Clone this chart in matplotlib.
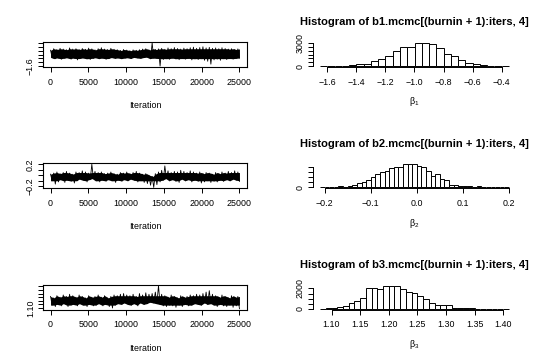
import numpy as np
import matplotlib.pyplot as plt

plt.rcParams['font.family'] = ['Liberation Sans', 'DejaVu Sans']
plt.rcParams['mathtext.fontset'] = 'custom'
plt.rcParams['mathtext.rm'] = 'Liberation Sans'
plt.rcParams['mathtext.it'] = 'Liberation Sans:italic'

# trace plots: upper and lower edge of the sample band, read per ~417 iterations
n_iter = 25000
b1_hi = [-0.78, -0.70, -0.74, -0.68, -0.72, -0.75, -0.66, -0.72, -0.70, -0.74,
         -0.69, -0.73, -0.67, -0.71, -0.76, -0.70, -0.65, -0.72, -0.74, -0.68,
         -0.73, -0.75, -0.79, -0.74, -0.77, -0.80, -0.76, -0.78, -0.75, -0.72,
         -0.70, -0.76, -0.40, -0.74, -0.71, -0.68, -0.73, -0.66, -0.70, -0.64,
         -0.69, -0.72, -0.67, -0.70, -0.65, -0.62, -0.68, -0.64, -0.60, -0.66,
         -0.63, -0.68, -0.66, -0.70, -0.65, -0.69, -0.72, -0.70, -0.74, -0.71]
b1_lo = [-1.15, -1.22, -1.18, -1.25, -1.20, -1.17, -1.24, -1.19, -1.28, -1.21,
         -1.18, -1.23, -1.26, -1.20, -1.17, -1.22, -1.19, -1.25, -1.21, -1.16,
         -1.20, -1.18, -1.22, -1.19, -1.17, -1.21, -1.15, -1.18, -1.20, -1.16,
         -1.14, -1.22, -1.19, -1.20, -1.60, -1.26, -1.22, -1.25, -1.19, -1.23,
         -1.27, -1.21, -1.24, -1.20, -1.28, -1.23, -1.26, -1.22, -1.30, -1.35,
         -1.50, -1.28, -1.24, -1.30, -1.22, -1.26, -1.21, -1.24, -1.20, -1.18]

b2_hi = [0.02, 0.04, 0.06, 0.03, 0.05, 0.07, 0.04, 0.02, 0.06, 0.05,
         0.08, 0.06, 0.04, 0.20, 0.07, 0.05, 0.06, 0.03, 0.04, 0.06,
         0.03, 0.02, 0.05, 0.04, 0.06, 0.03, 0.05, 0.07, 0.04, 0.02,
         0.03, 0.00, -0.02, 0.03, 0.06, 0.09, 0.17, 0.08, 0.05, 0.07,
         0.06, 0.09, 0.07, 0.05, 0.08, 0.06, 0.04, 0.06, 0.03, 0.05,
         0.04, 0.02, 0.05, 0.03, 0.06, 0.04, 0.07, 0.05, 0.08, 0.06]
b2_lo = [-0.10, -0.16, -0.12, -0.08, -0.13, -0.09, -0.11, -0.14, -0.10, -0.07,
         -0.09, -0.12, -0.08, -0.06, -0.10, -0.12, -0.09, -0.11, -0.08, -0.10,
         -0.13, -0.09, -0.11, -0.08, -0.10, -0.07, -0.09, -0.12, -0.10, -0.13,
         -0.15, -0.18, -0.22, -0.17, -0.12, -0.09, -0.06, -0.10, -0.08, -0.11,
         -0.13, -0.07, -0.10, -0.08, -0.12, -0.09, -0.11, -0.14, -0.12, -0.10,
         -0.13, -0.11, -0.12, -0.09, -0.11, -0.08, -0.10, -0.07, -0.09, -0.11]

b3_hi = [1.26, 1.24, 1.27, 1.25, 1.28, 1.26, 1.29, 1.27, 1.25, 1.28,
         1.26, 1.24, 1.27, 1.25, 1.26, 1.28, 1.25, 1.27, 1.24, 1.26,
         1.28, 1.27, 1.29, 1.30, 1.28, 1.27, 1.29, 1.26, 1.30, 1.28,
         1.31, 1.29, 1.30, 1.32, 1.41, 1.29, 1.27, 1.25, 1.28, 1.26,
         1.24, 1.27, 1.25, 1.26, 1.28, 1.27, 1.29, 1.28, 1.30, 1.32,
         1.34, 1.29, 1.27, 1.25, 1.28, 1.26, 1.24, 1.27, 1.25, 1.26]
b3_lo = [1.14, 1.12, 1.15, 1.13, 1.16, 1.12, 1.14, 1.15, 1.13, 1.16,
         1.14, 1.12, 1.15, 1.13, 1.14, 1.16, 1.13, 1.15, 1.12, 1.10,
         1.14, 1.16, 1.15, 1.17, 1.15, 1.14, 1.16, 1.13, 1.17, 1.15,
         1.16, 1.18, 1.17, 1.16, 1.15, 1.13, 1.12, 1.14, 1.13, 1.11,
         1.14, 1.12, 1.15, 1.13, 1.14, 1.16, 1.15, 1.14, 1.17, 1.15,
         1.16, 1.14, 1.12, 1.15, 1.13, 1.12, 1.14, 1.11, 1.13, 1.09]

# histograms: first break, bin width, counts
b1_start, b1_width = -1.65, 0.05
b1_counts = [3, 5, 15, 40, 140, 230, 320, 690, 920, 1290, 1980, 2450, 2480,
             3050, 3000, 2850, 2380, 1540, 1270, 790, 420, 230, 90, 40, 15, 4]
b2_start, b2_width = -0.21, 0.01
b2_counts = [3, 5, 20, 70, 140, 70, 140, 280, 410, 480, 720, 1000, 1340, 1480,
             1590, 1830, 2000, 2000, 2240, 2240, 2240, 2070, 2000, 1550, 1070,
             1340, 860, 720, 280, 210, 170, 140, 100, 70, 140, 35, 35, 50, 35,
             30, 10]
b3_start, b3_width = 1.08, 0.01
b3_counts = [5, 30, 100, 180, 280, 560, 810, 1020, 2040, 2040, 1960, 2250, 2280,
             2210, 1900, 1650, 1540, 1300, 950, 600, 350, 350, 320, 100, 70, 40,
             30, 15, 10, 10, 8, 5, 3]

iter_ticks = [0, 5000, 10000, 15000, 20000, 25000]
b1_trace_ticks = [-1.6, -1.4, -1.2, -1.0, -0.8, -0.6, -0.4]
b1_trace_labels = ['\u22121.6', '', '', '', '', '', '']
b2_trace_ticks = [-0.2, -0.1, 0.0, 0.1, 0.2]
b2_trace_labels = ['\u22120.2', '', '', '', '0.2']
b3_trace_ticks = [1.10, 1.15, 1.20, 1.25, 1.30, 1.35, 1.40]
b3_trace_labels = ['1.10', '', '', '', '', '', '']

b1_hist_xticks = [-1.6, -1.4, -1.2, -1.0, -0.8, -0.6, -0.4]
b2_hist_xticks = [-0.2, -0.1, 0.0, 0.1, 0.2]
b3_hist_xticks = [1.10, 1.15, 1.20, 1.25, 1.30, 1.35, 1.40]
hist_xfmt = ['%.1f', '%.1f', '%.2f']
b1_hist_yticks = [0, 500, 1000, 1500, 2000, 2500, 3000]
b1_hist_ylabels = ['0', '', '', '', '', '', '3000']
b2_hist_yticks = [0, 500, 1000, 1500, 2000]
b2_hist_ylabels = ['0', '', '', '', '']
b3_hist_yticks = [0, 500, 1000, 1500, 2000]
b3_hist_ylabels = ['0', '', '', '', '2000']

titles = ['Histogram of b1.mcmc[(burnin + 1):iters, 4]',
          'Histogram of b2.mcmc[(burnin + 1):iters, 4]',
          'Histogram of b3.mcmc[(burnin + 1):iters, 4]']
xlabels = [r'$\mathrm{\beta}_1$', r'$\mathrm{\beta}_2$', r'$\mathrm{\beta}_3$']

W, H = 539, 364
fs = 6.4


def style(ax):
    ax.tick_params(direction='out', length=3.3, width=0.7, labelsize=fs)
    ax.tick_params(axis='x', pad=4.5)
    ax.tick_params(axis='y', pad=2.5, labelrotation=90)
    for lab in ax.get_yticklabels():
        lab.set_va('center')


def trace(ax, hi, lo, yticks, ylabels):
    ys = np.empty(2 * len(hi))
    ys[0::2] = hi
    ys[1::2] = lo
    xs = np.linspace(0, n_iter, len(ys))
    xm = np.linspace(0, n_iter, len(hi))
    # dense core of the band, spikes stay as the zigzag line
    core_hi = np.minimum(hi, np.median(hi))
    core_lo = np.maximum(lo, np.median(lo))
    ax.fill_between(xm, core_lo, core_hi, color='black', lw=0)
    ax.plot(xs, ys, color='black', lw=0.6)
    lo_v, hi_v = min(lo), max(hi)
    r = hi_v - lo_v
    ax.set_ylim(lo_v - 0.04 * r, hi_v + 0.04 * r)
    ax.set_xlim(-0.04 * n_iter, 1.04 * n_iter)
    ax.set_xticks(iter_ticks)
    ax.set_xticklabels([str(t) for t in iter_ticks])
    ax.set_yticks(yticks)
    ax.set_yticklabels(ylabels)
    for s in ax.spines.values():
        s.set_linewidth(0.8)
    style(ax)
    ax.set_xlabel('Iteration', fontsize=fs)
    ax.xaxis.set_label_coords(0.5, -34.0 / 25)


def hist(ax, start, width, counts, xticks, fmt, yticks, ylabels, title, xlabel):
    edges = start + width * np.arange(len(counts))
    ax.bar(edges, counts, width=width, align='edge', facecolor='white',
           edgecolor='black', linewidth=0.7)
    end = start + width * len(counts)
    r = end - start
    ax.set_xlim(start - 0.04 * r, end + 0.04 * r)
    m = max(counts)
    ax.set_ylim(-0.04 * m, 1.04 * m)
    ax.set_xticks(xticks)
    ax.set_xticklabels([(fmt % t).replace('-', '\u2212') for t in xticks])
    ax.set_yticks(yticks)
    ax.set_yticklabels(ylabels)
    for side in ['top', 'right']:
        ax.spines[side].set_visible(False)
    ax.spines['left'].set_bounds(yticks[0], yticks[-1])
    ax.spines['bottom'].set_bounds(xticks[0], xticks[-1])
    ax.spines['left'].set_linewidth(0.7)
    ax.spines['bottom'].set_linewidth(0.7)
    style(ax)
    ax.set_title(title, fontsize=8.0, fontweight='bold', pad=12)
    ax.set_xlabel(xlabel, fontsize=fs)
    ax.xaxis.set_label_coords(0.5, -28.5 / 25)


fig = plt.figure(figsize=(W / 100, H / 100), dpi=100)

traces = [(b1_hi, b1_lo, b1_trace_ticks, b1_trace_labels),
          (b2_hi, b2_lo, b2_trace_ticks, b2_trace_labels),
          (b3_hi, b3_lo, b3_trace_ticks, b3_trace_labels)]
hists = [(b1_start, b1_width, b1_counts, b1_hist_xticks, hist_xfmt[0], b1_hist_yticks, b1_hist_ylabels),
         (b2_start, b2_width, b2_counts, b2_hist_xticks, hist_xfmt[1], b2_hist_yticks, b2_hist_ylabels),
         (b3_start, b3_width, b3_counts, b3_hist_xticks, hist_xfmt[2], b3_hist_yticks, b3_hist_ylabels)]

row_h = H / 3
for i in range(3):
    bottom = 1 - (67 + row_h * i) / H
    ax_t = fig.add_axes([43 / W, bottom, 204 / W, 25 / H])
    trace(ax_t, *traces[i])
    ax_h = fig.add_axes([312.5 / W, bottom, 204 / W, 25 / H])
    hist(ax_h, *hists[i], titles[i], xlabels[i])

fig.savefig('out.png', dpi=100)
